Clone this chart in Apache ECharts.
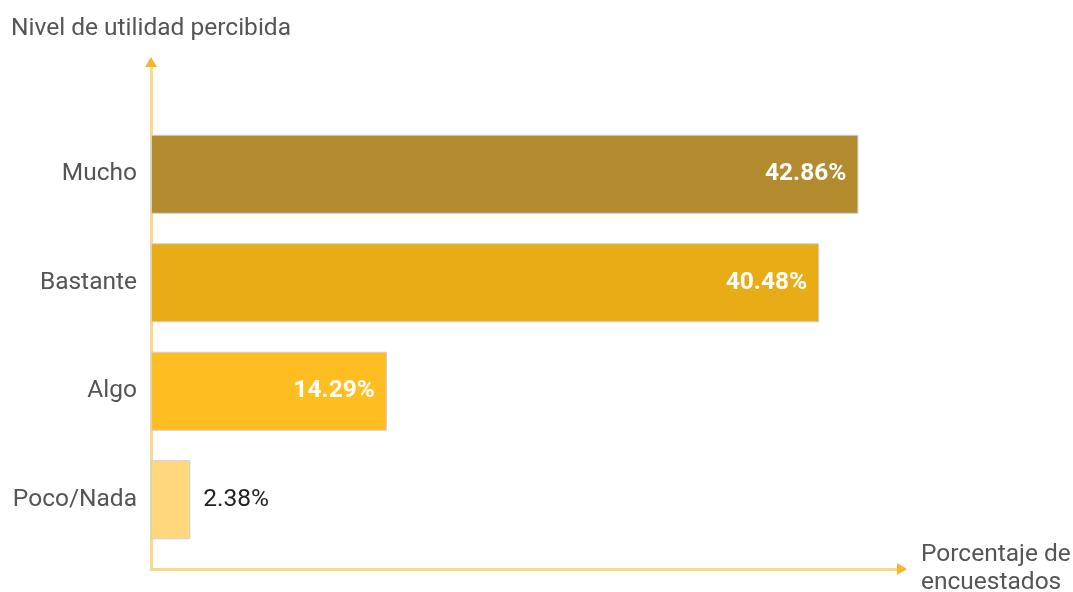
<!DOCTYPE html>
<html>
<head>
<meta charset="utf-8">
<script src="https://cdn.jsdelivr.net/npm/echarts@6/dist/echarts.min.js"></script>
<style>
  html, body { margin: 0; padding: 0; background: #fff; }
  #chart { width: 1073px; height: 592px; }
</style>
</head>
<body>
<div id="chart"></div>
<script>
// Perceived usefulness levels, bottom to top
const categories = ['Poco/Nada', 'Algo', 'Bastante', 'Mucho'];
const values = [2.38, 14.29, 40.48, 42.86];
const barColors = ['#FFD87E', '#FEBE22', '#E8AC17', '#B28B2E'];
const xAxisName = 'Porcentaje de\nencuestados';
const yAxisName = 'Nivel de utilidad percibida';

const FONT = 'Roboto, "Noto Sans", sans-serif';
const FS = 24.5;
const AXIS_LINE = '#FBD98A';
const ARROW = '#F8B52A';
const X_MAX = 45.5;

const chart = echarts.init(document.getElementById('chart'), null, { renderer: 'canvas' });

const seriesData = values.map((v, i) => {
  const small = v < 5;
  return {
    value: v,
    itemStyle: { color: barColors[i] },
    label: small
      ? { position: 'right', distance: 13, color: '#222', fontWeight: 'normal' }
      : { position: 'insideRight', distance: 12, color: '#fff', fontWeight: 'bold' }
  };
});

const hidden = {
  axisTick: { show: false }, axisLabel: { show: false }, splitLine: { show: false }
};
const frame = { left: 151, right: 171, top: 62, bottom: 23, outerBoundsMode: 'none', containLabel: false };
// amber arrowheads only: the line itself is transparent, the light line shows through
const arrowLine = {
  show: true, symbol: ['none', 'triangle'], symbolSize: [12, 10],
  lineStyle: { color: ARROW, width: 3, opacity: 0 }
};

chart.setOption({
  animation: false,
  grid: [
    // plotting area for the bars
    { left: 151, right: 171, top: 120, bottom: 38, outerBoundsMode: 'none', containLabel: false },
    // frame carrying the light axis lines and names
    frame,
    // same frame, arrowheads on top
    Object.assign({}, frame)
  ],
  xAxis: [
    Object.assign({
      gridIndex: 0, type: 'value', min: 0, max: X_MAX,
      axisLine: { show: false }
    }, hidden),
    Object.assign({
      gridIndex: 1, type: 'value', min: 0, max: X_MAX, z: 1,
      name: xAxisName, nameLocation: 'end', nameGap: 19,
      nameTextStyle: { color: '#555', fontFamily: FONT, fontSize: FS, lineHeight: 28, align: 'left', verticalAlign: 'middle', padding: [10, 0, 0, 0] },
      axisLine: { show: true, lineStyle: { color: AXIS_LINE, width: 3 } }
    }, hidden),
    Object.assign({
      gridIndex: 2, type: 'value', min: 0, max: X_MAX, z: 3,
      axisLine: arrowLine
    }, hidden)
  ],
  yAxis: [
    {
      gridIndex: 0, type: 'category', data: categories,
      axisLine: { show: false }, axisTick: { show: false },
      axisLabel: { color: '#555', fontFamily: FONT, fontSize: FS, margin: 14 }
    },
    Object.assign({
      gridIndex: 1, type: 'value', min: 0, max: 1, z: 1,
      name: yAxisName, nameLocation: 'end', nameGap: 21,
      nameTextStyle: { color: '#555', fontFamily: FONT, fontSize: FS },
      axisLine: { show: true, lineStyle: { color: AXIS_LINE, width: 3 } }
    }, hidden),
    Object.assign({
      gridIndex: 2, type: 'value', min: 0, max: 1, z: 3,
      axisLine: arrowLine
    }, hidden)
  ],
  series: [{
    type: 'bar',
    xAxisIndex: 0, yAxisIndex: 0,
    barWidth: 79,
    data: seriesData,
    itemStyle: { borderColor: '#CFCFCF', borderWidth: 1 },
    label: {
      show: true,
      fontFamily: FONT,
      fontSize: FS,
      formatter: p => p.value.toFixed(2) + '%'
    }
  }]
});
</script>
</body>
</html>
